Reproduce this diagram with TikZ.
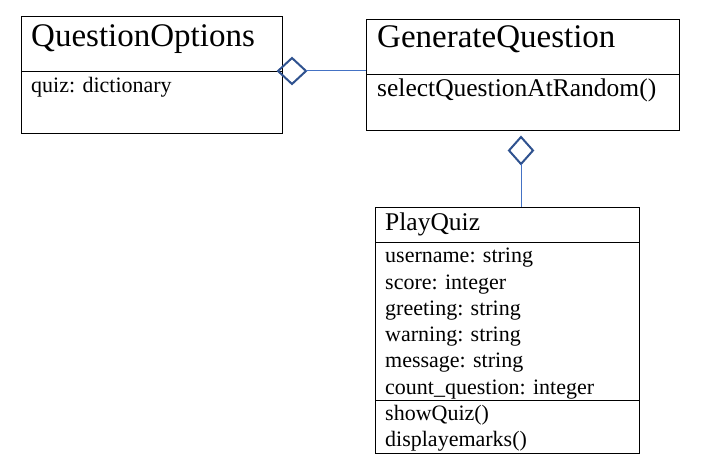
\documentclass[tikz,border=0pt]{standalone}
\usepackage{fontspec}
\setmainfont{Liberation Serif}
\usetikzlibrary{shapes.geometric}
\definecolor{diablue}{HTML}{2F528F}
\definecolor{linkblue}{HTML}{4472C4}

\begin{document}
\begin{tikzpicture}[x=1pt, y=-1pt,
    part/.style={rectangle, draw, line width=0.9pt, anchor=north west, inner sep=0pt, outer sep=0pt},
    agg/.style={diamond, draw=diablue, line width=2pt, inner sep=0pt, outer sep=0pt},
    link/.style={draw=linkblue, line width=1pt},
    bigname/.style={anchor=base west, inner sep=0pt, font=\fontsize{33}{33}\selectfont},
    midname/.style={anchor=base west, inner sep=0pt, font=\fontsize{25.5}{26}\selectfont},
    member/.style={anchor=base west, inner sep=0pt, font=\fontsize{22}{26}\selectfont}]
          \useasboundingbox (0,0) rectangle (702,465);
          % QuestionOptions
          \node[part, minimum width=261pt, minimum height=55pt](qohead)  at (21,16)   {};
          \node[part, minimum width=261pt, minimum height=62pt](qobody)  at (21,71)   {};
          \node[bigname](qoname)   at (31,47)   {QuestionOptions};
          \node[member](qoquiz)    at (31,93)   {quiz: dictionary};
          % GenerateQuestion
          \node[part, minimum width=313pt, minimum height=55pt](gqhead)  at (366,19)  {};
          \node[part, minimum width=313pt, minimum height=56pt](gqbody)  at (366,74)  {};
          \node[bigname](gqname)   at (377,48)  {GenerateQuestion};
          \node[midname](gqselect) at (377,97)  {selectQuestionAtRandom()};
          % PlayQuiz
          \node[part, minimum width=264pt, minimum height=35pt](pqhead)  at (375,207) {};
          \node[part, minimum width=264pt, minimum height=158pt](pqattr) at (375,242) {};
          \node[part, minimum width=264pt, minimum height=53pt](pqops)   at (375,400) {};
          \node[midname](pqname)   at (385,231)   {PlayQuiz};
          \node[member](pq1)       at (385,263)   {username: string};
          \node[member](pq2)       at (385,289.2) {score: integer};
          \node[member](pq3)       at (385,315.4) {greeting: string};
          \node[member](pq4)       at (385,341.6) {warning: string};
          \node[member](pq5)       at (385,367.8) {message: string};
          \node[member](pq6)       at (385,394)   {count\_question: integer};
          \node[member](pq7)       at (385,420.2) {showQuiz()};
          \node[member](pq8)       at (385,446.4) {displayemarks()};
          % aggregations
          \node[agg, minimum width=28pt, minimum height=26pt](d1) at (292,71)    {};
          \node[agg, minimum width=24pt, minimum height=27pt](d2) at (521,150.5) {};
          \path[link]
            (d1.east) edge (d1.east -| gqhead.west)
            (d2.south) edge (d2.south |- pqhead.north)
            ;
        \end{tikzpicture}
\end{document}
